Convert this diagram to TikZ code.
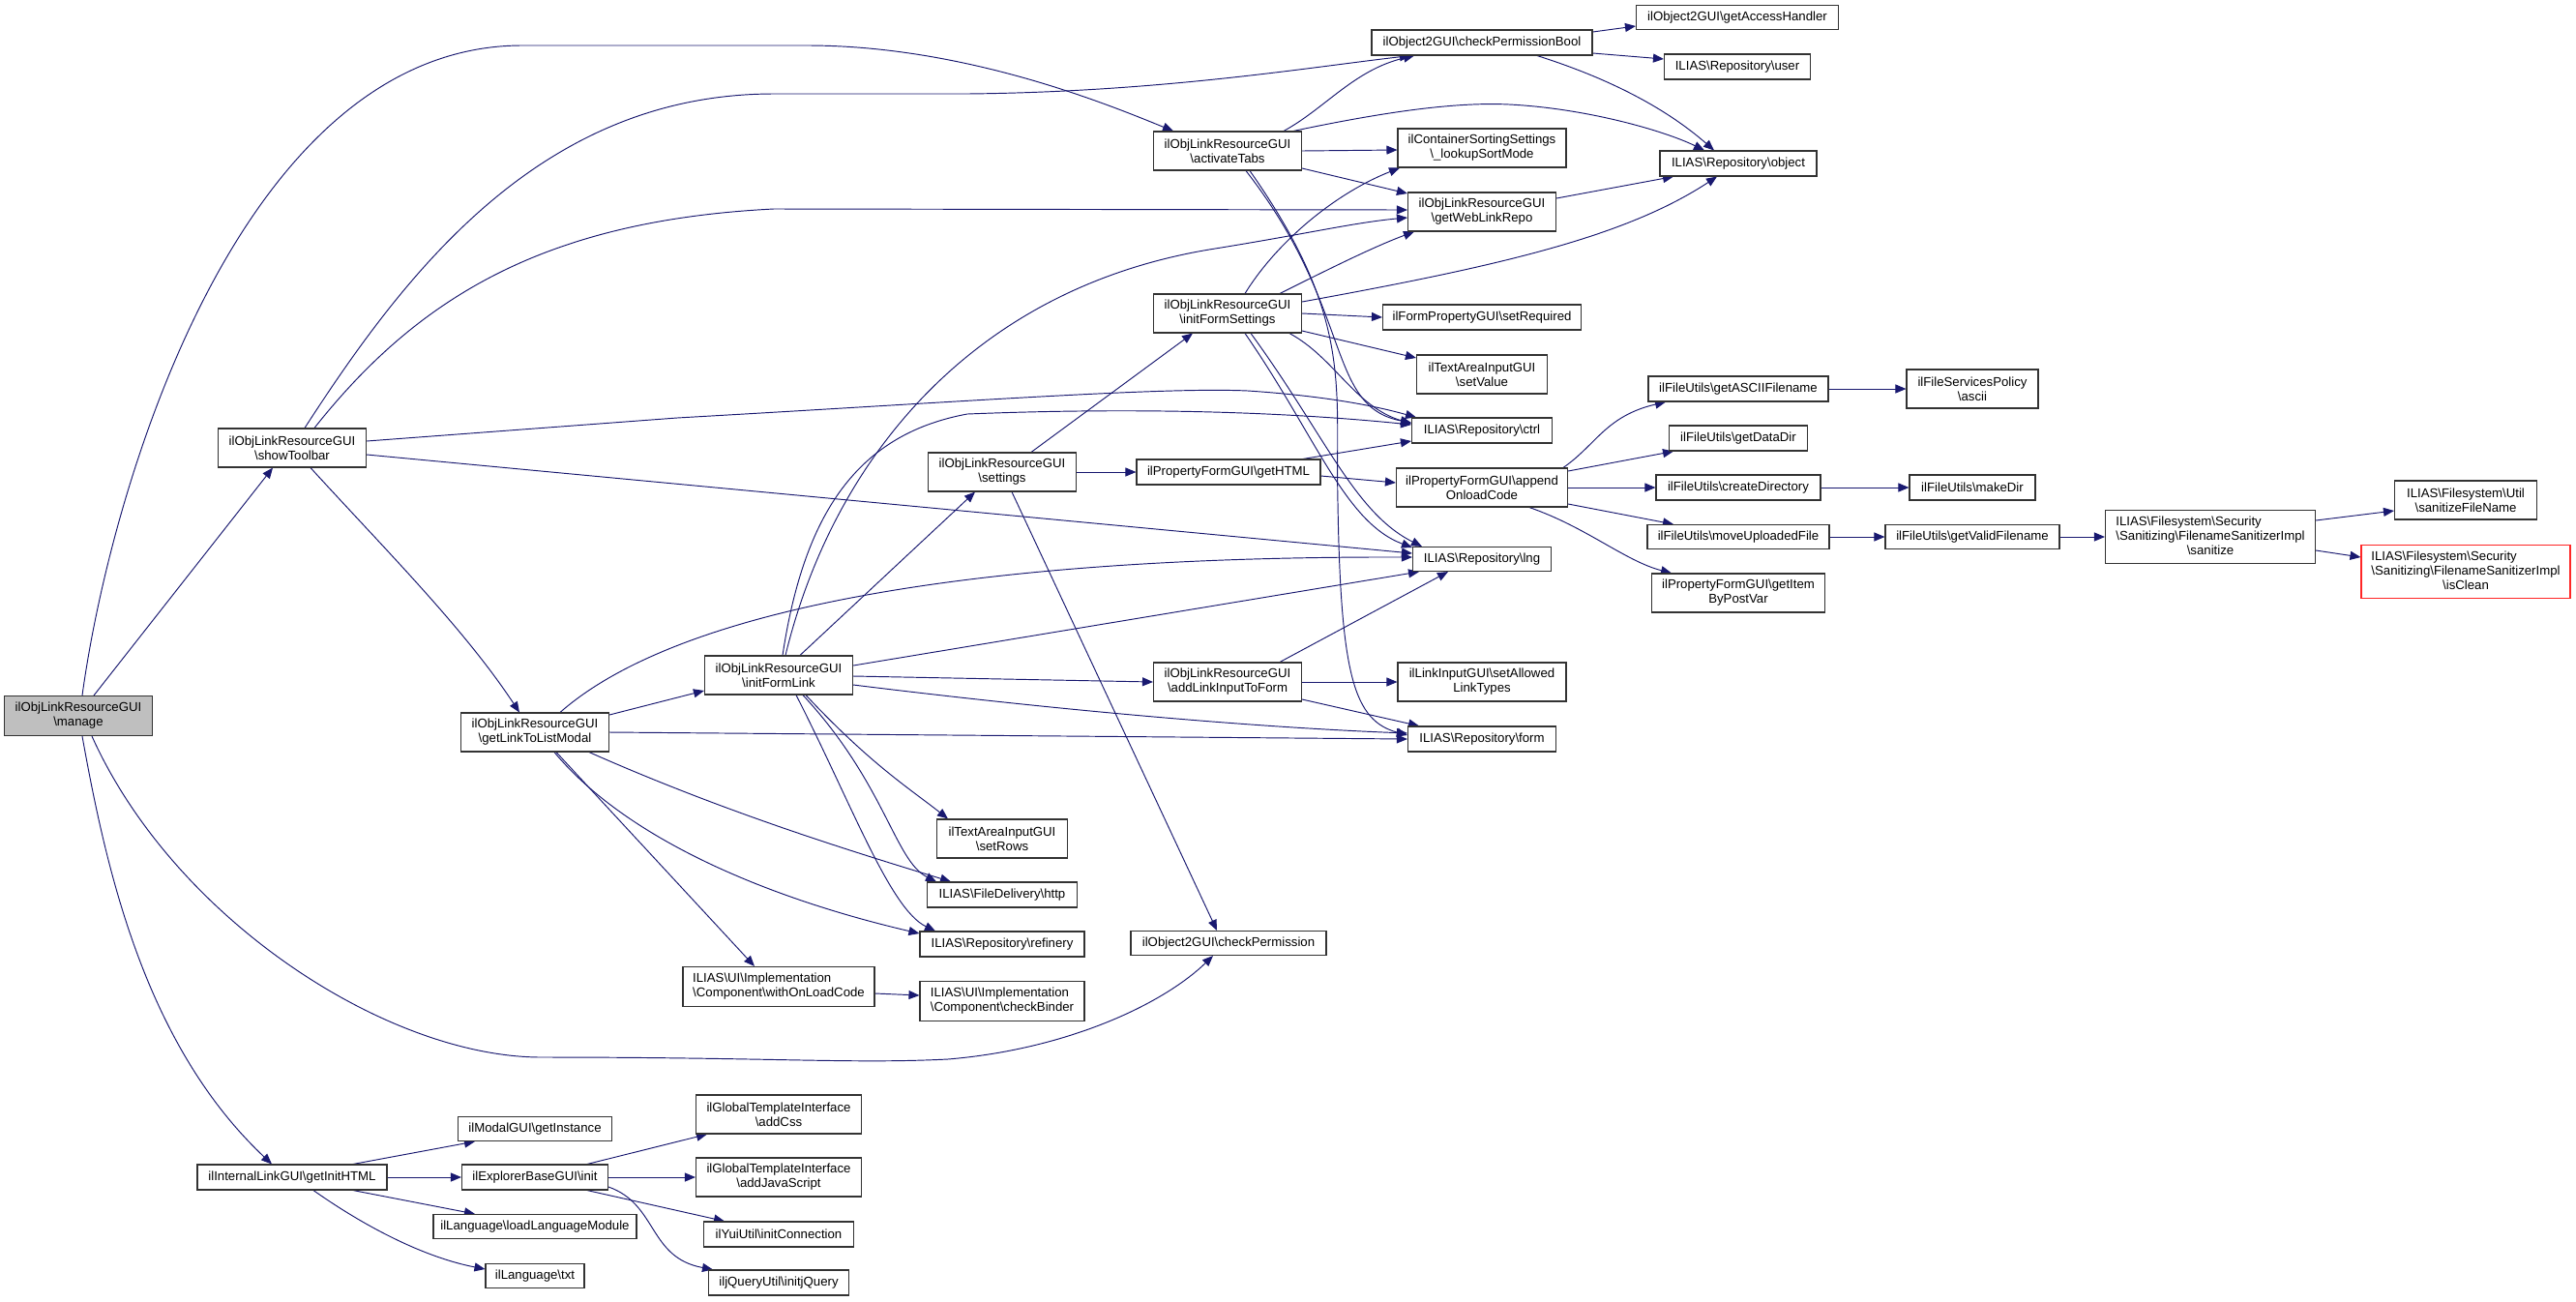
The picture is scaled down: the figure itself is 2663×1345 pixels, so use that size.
\documentclass[tikz,border=0pt]{standalone}
\usepackage{fontspec}
\setmainfont{Liberation Sans}
\usetikzlibrary{arrows.meta}
\newcommand\bksl{\textbackslash}
\newcommand\fsz{\fontsize{13.2}{15}\selectfont}
\definecolor{mblue}{RGB}{25,25,112}
\definecolor{gfill}{RGB}{191,191,191}
\pgfdeclarelayer{bg}
\pgfsetlayers{bg,main}
\tikzset{
  nd/.style={draw=black!80, line width=1.1pt, fill=white, inner sep=2pt, align=center, font=\fsz},
  e/.style={draw=mblue, line width=0.95pt, -{Triangle[length=11pt,width=9pt]}}
}
\begin{document}
\begin{tikzpicture}[x=1pt,y=-1pt]
\begin{pgfonlayer}{bg}
\fill[white] (0,0) rectangle (2663,1345);
\end{pgfonlayer}
\useasboundingbox (0,0) rectangle (2663,1345);
% nodes
\node[nd, fill=gfill, minimum width=153pt, minimum height=41pt] (manage) at (81,740) {ilObjLinkResourceGUI\\\bksl manage};
\node[nd, minimum width=153pt, minimum height=40pt] (showToolbar) at (302,463) {ilObjLinkResourceGUI\\\bksl showToolbar};
\node[nd, minimum width=153pt, minimum height=40pt] (getLinkToListModal) at (553,757) {ilObjLinkResourceGUI\\\bksl getLinkToListModal};
\node[nd, minimum width=196pt, minimum height=26pt] (getInitHTML) at (302,1217) {ilInternalLinkGUI\bksl getInitHTML};
\node[nd, minimum width=159pt, minimum height=25pt] (getInstance) at (553,1167) {ilModalGUI\bksl getInstance};
\node[nd, minimum width=151pt, minimum height=26pt] (explorerInit) at (553,1217) {ilExplorerBaseGUI\bksl init};
\node[nd, minimum width=210pt, minimum height=25pt] (loadLanguageModule) at (553,1268) {ilLanguage\bksl loadLanguageModule};
\node[nd, minimum width=102pt, minimum height=25pt] (txt) at (553,1319) {ilLanguage\bksl txt};
\node[nd, minimum width=153pt, minimum height=40pt] (initFormLink) at (805,698) {ilObjLinkResourceGUI\\\bksl initFormLink};
\node[nd, align=left, minimum width=198pt, minimum height=41pt] (withOnLoadCode) at (805,1020) {ILIAS\bksl UI\bksl Implementation\\\bksl Component\bksl withOnLoadCode};
\node[nd, minimum width=171pt, minimum height=40pt] (addCss) at (805,1152) {ilGlobalTemplateInterface\\\bksl addCss};
\node[nd, minimum width=171pt, minimum height=40pt] (addJavaScript) at (805,1217) {ilGlobalTemplateInterface\\\bksl addJavaScript};
\node[nd, minimum width=155pt, minimum height=26pt] (initConnection) at (805,1276) {ilYuiUtil\bksl initConnection};
\node[nd, minimum width=145pt, minimum height=26pt] (initjQuery) at (805,1326) {iljQueryUtil\bksl initjQuery};
\node[nd, minimum width=153pt, minimum height=40pt] (settings) at (1036,488) {ilObjLinkResourceGUI\\\bksl settings};
\node[nd, minimum width=135pt, minimum height=40pt] (setRows) at (1036,867) {ilTextAreaInputGUI\\\bksl setRows};
\node[nd, minimum width=155pt, minimum height=26pt] (http) at (1036,925) {ILIAS\bksl FileDelivery\bksl http};
\node[nd, minimum width=170pt, minimum height=26pt] (refinery) at (1036,976) {ILIAS\bksl Repository\bksl refinery};
\node[nd, align=left, minimum width=170pt, minimum height=41pt] (checkBinder) at (1036,1035) {ILIAS\bksl UI\bksl Implementation\\\bksl Component\bksl checkBinder};
\node[nd, minimum width=153pt, minimum height=40pt] (activateTabs) at (1269,156) {ilObjLinkResourceGUI\\\bksl activateTabs};
\node[nd, minimum width=153pt, minimum height=40pt] (initFormSettings) at (1269,324) {ilObjLinkResourceGUI\\\bksl initFormSettings};
\node[nd, minimum width=190pt, minimum height=26pt] (getHTML) at (1270,488) {ilPropertyFormGUI\bksl getHTML};
\node[nd, minimum width=153pt, minimum height=40pt] (addLinkInputToForm) at (1269,705) {ilObjLinkResourceGUI\\\bksl addLinkInputToForm};
\node[nd, minimum width=202pt, minimum height=25pt] (checkPermission) at (1270,975) {ilObject2GUI\bksl checkPermission};
\node[nd, minimum width=228pt, minimum height=26pt] (checkPermissionBool) at (1532,44) {ilObject2GUI\bksl checkPermissionBool};
\node[nd, minimum width=174pt, minimum height=40pt] (lookupSortMode) at (1532,153) {ilContainerSortingSettings\\\bksl\_lookupSortMode};
\node[nd, minimum width=153pt, minimum height=40pt] (getWebLinkRepo) at (1532,219) {ilObjLinkResourceGUI\\\bksl getWebLinkRepo};
\node[nd, minimum width=205pt, minimum height=26pt] (setRequired) at (1532,328) {ilFormPropertyGUI\bksl setRequired};
\node[nd, minimum width=135pt, minimum height=40pt] (setValue) at (1532,387) {ilTextAreaInputGUI\\\bksl setValue};
\node[nd, minimum width=145pt, minimum height=26pt] (ctrl) at (1532,445) {ILIAS\bksl Repository\bksl ctrl};
\node[nd, minimum width=177pt, minimum height=40pt] (appendOnloadCode) at (1532,504) {ilPropertyFormGUI\bksl append\\OnloadCode};
\node[nd, minimum width=143pt, minimum height=25pt] (lng) at (1532,578) {ILIAS\bksl Repository\bksl lng};
\node[nd, minimum width=174pt, minimum height=40pt] (setAllowedLinkTypes) at (1532,705) {ilLinkInputGUI\bksl setAllowed\\LinkTypes};
\node[nd, minimum width=153pt, minimum height=26pt] (form) at (1532,764) {ILIAS\bksl Repository\bksl form};
\node[nd, minimum width=209pt, minimum height=25pt] (getAccessHandler) at (1796,18) {ilObject2GUI\bksl getAccessHandler};
\node[nd, minimum width=151pt, minimum height=26pt] (user) at (1796,69) {ILIAS\bksl Repository\bksl user};
\node[nd, minimum width=162pt, minimum height=26pt] (object) at (1797,169) {ILIAS\bksl Repository\bksl object};
\node[nd, minimum width=186pt, minimum height=26pt] (getASCIIFilename) at (1797,402) {ilFileUtils\bksl getASCIIFilename};
\node[nd, minimum width=143pt, minimum height=26pt] (getDataDir) at (1797,453) {ilFileUtils\bksl getDataDir};
\node[nd, minimum width=170pt, minimum height=26pt] (createDirectory) at (1797,504) {ilFileUtils\bksl createDirectory};
\node[nd, minimum width=188pt, minimum height=25pt] (moveUploadedFile) at (1797,555) {ilFileUtils\bksl moveUploadedFile};
\node[nd, minimum width=179pt, minimum height=40pt] (getItemByPostVar) at (1797,613) {ilPropertyFormGUI\bksl getItem\\ByPostVar};
\node[nd, minimum width=136pt, minimum height=40pt] (ascii) at (2039,402) {ilFileServicesPolicy\\\bksl ascii};
\node[nd, minimum width=130pt, minimum height=26pt] (makeDir) at (2039,504) {ilFileUtils\bksl makeDir};
\node[nd, minimum width=180pt, minimum height=25pt] (getValidFilename) at (2039,555) {ilFileUtils\bksl getValidFilename};
\node[nd, minimum width=217pt, minimum height=55pt] (sanitize) at (2285,555) {\begin{tabular}{@{}l@{}}ILIAS\bksl Filesystem\bksl Security\\\bksl Sanitizing\bksl FilenameSanitizerImpl\\\multicolumn{1}{@{}c@{}}{\bksl sanitize}\end{tabular}};
\node[nd, minimum width=147pt, minimum height=40pt] (sanitizeFileName) at (2549,517) {ILIAS\bksl Filesystem\bksl Util\\\bksl sanitizeFileName};
\node[nd, draw=red!85, minimum width=216pt, minimum height=55pt] (isClean) at (2549,591) {\begin{tabular}{@{}l@{}}ILIAS\bksl Filesystem\bksl Security\\\bksl Sanitizing\bksl FilenameSanitizerImpl\\\multicolumn{1}{@{}c@{}}{\bksl isClean}\end{tabular}};
% edges
\begin{pgfonlayer}{bg}
\draw[e] ([xshift=4pt]manage.north) .. controls (115,500) and (250,47) .. (540,47) -- (834,47) .. controls (1000,47) and (1150,110) .. ([xshift=-56pt]activateTabs.north);
\draw[e] ([xshift=16pt]manage.north) -- ([xshift=-20pt]showToolbar.south);
\draw[e] ([xshift=4pt]manage.south) .. controls (110,900) and (150,1080) .. ([xshift=-21pt]getInitHTML.north);
\draw[e] ([xshift=14pt]manage.south) .. controls (180,950) and (400,1093) .. (560,1093) .. controls (800,1093) and (880,1100) .. (980,1095) .. controls (1100,1085) and (1200,1040) .. ([xshift=-16pt]checkPermission.south);
\draw[e] ([xshift=13pt]showToolbar.north) .. controls (420,280) and (560,97) .. (800,97) -- (1000,97) .. controls (1200,95) and (1350,70) .. ([xshift=-74pt]checkPermissionBool.south);
\draw[e] ([xshift=23pt]showToolbar.north) .. controls (430,310) and (560,228) .. (800,216) -- ([yshift=2pt]getWebLinkRepo.west);
\draw[e] ([yshift=7pt]showToolbar.east) -- (700,432) .. controls (1000,415) and (1200,400) .. (1290,404) .. controls (1380,410) and (1430,422) .. ([xshift=-68pt]ctrl.north);
\draw[e] ([yshift=-7pt]showToolbar.east) -- ([yshift=6pt]lng.west);
\draw[e] ([xshift=19pt]showToolbar.south) .. controls (400,570) and (480,650) .. ([xshift=-16pt]getLinkToListModal.north);
\draw[e] ([xshift=58pt]activateTabs.north) .. controls (1370,112) and (1400,72) .. ([xshift=-70pt]checkPermissionBool.south);
\draw[e] ([xshift=68pt]activateTabs.north) .. controls (1420,118) and (1500,105) .. (1560,108) .. controls (1640,112) and (1720,135) .. ([xshift=-35pt]object.north);
\draw[e] (activateTabs.east) -- ([yshift=-2pt]lookupSortMode.west);
\draw[e] ([yshift=-18pt]activateTabs.east) -- ([yshift=19pt]getWebLinkRepo.west);
\draw[e] ([xshift=19pt]activateTabs.south) .. controls (1400,320) and (1370,420) .. ([yshift=8pt]ctrl.west);
\draw[e] ([xshift=23pt]activateTabs.south) .. controls (1400,330) and (1380,400) .. (1383,520) .. controls (1386,700) and (1400,745) .. ([yshift=4pt]form.west);
\draw[e] ([xshift=18pt]initFormSettings.north) .. controls (1320,250) and (1380,200) .. ([xshift=-85pt]lookupSortMode.south);
\draw[e] ([xshift=54pt]initFormSettings.north) .. controls (1370,280) and (1420,255) .. ([xshift=-70pt]getWebLinkRepo.south);
\draw[e] ([yshift=12pt]initFormSettings.east) .. controls (1550,275) and (1680,245) .. ([xshift=-22pt]object.south);
\draw[e] (initFormSettings.east) -- (setRequired.west);
\draw[e] ([yshift=-18pt]initFormSettings.east) -- ([yshift=17pt]setValue.west);
\draw[e] ([xshift=64pt]initFormSettings.south) .. controls (1380,370) and (1400,420) .. ([yshift=7pt]ctrl.west);
\draw[e] ([xshift=18pt]initFormSettings.south) .. controls (1360,450) and (1390,540) .. ([yshift=12pt]lng.west);
\draw[e] ([xshift=24pt]initFormSettings.south) .. controls (1370,450) and (1400,530) .. ([xshift=-62pt]lng.north);
\draw[e] ([xshift=22pt]initFormLink.north) -- ([xshift=-28pt]settings.south);
\draw[e] ([xshift=7pt]initFormLink.north) .. controls (860,480) and (1000,300) .. (1250,258) .. controls (1350,242) and (1400,230) .. ([yshift=-6pt]getWebLinkRepo.west);
\draw[e] ([xshift=4pt]initFormLink.north) .. controls (830,540) and (880,450) .. (1000,428) .. controls (1200,420) and (1350,428) .. ([yshift=6pt]ctrl.west);
\draw[e] ([xshift=28pt]initFormLink.south) .. controls (900,790) and (940,815) .. ([xshift=-56pt]setRows.north);
\draw[e] ([xshift=25pt]initFormLink.south) .. controls (915,810) and (925,890) .. ([xshift=-68pt]http.north);
\draw[e] ([xshift=18pt]initFormLink.south) .. controls (880,830) and (920,940) .. ([xshift=-69pt]refinery.north);
\draw[e] ([yshift=10pt]initFormLink.east) -- ([xshift=-65pt]lng.south);
\draw[e] ([yshift=-1pt]initFormLink.east) -- (addLinkInputToForm.west);
\draw[e] ([yshift=-10pt]initFormLink.east) .. controls (1100,735) and (1300,752) .. ([yshift=6pt]form.west);
\draw[e] ([yshift=18pt]getLinkToListModal.east) -- ([yshift=-16pt]initFormLink.west);
\draw[e] ([xshift=26pt]getLinkToListModal.north) .. controls (700,630) and (1000,575) .. ([yshift=2pt]lng.west);
\draw[e] (getLinkToListModal.east) -- (form.west);
\draw[e] ([xshift=56pt]getLinkToListModal.south) .. controls (750,840) and (880,880) .. ([xshift=-53pt]http.north);
\draw[e] ([xshift=20pt]getLinkToListModal.south) .. controls (650,870) and (800,930) .. ([yshift=11pt]refinery.west);
\draw[e] ([xshift=22pt]getLinkToListModal.south) -- ([xshift=-25pt]withOnLoadCode.north);
\draw[e] ([xshift=30pt]settings.north) -- ([xshift=-36pt]initFormSettings.south);
\draw[e] (settings.east) -- (getHTML.west);
\draw[e] ([xshift=10pt]settings.south) -- ([xshift=-12pt]checkPermission.north);
\draw[e] ([xshift=77pt]getHTML.north) -- ([yshift=-11pt]ctrl.west);
\draw[e] ([yshift=-4pt]getHTML.east) -- ([yshift=5pt]appendOnloadCode.west);
\draw[e] ([xshift=54pt]addLinkInputToForm.north) -- ([xshift=-35pt]lng.south);
\draw[e] (addLinkInputToForm.east) -- (setAllowedLinkTypes.west);
\draw[e] ([yshift=-18pt]addLinkInputToForm.east) -- ([xshift=-65pt]form.north);
\draw[e] ([yshift=11pt]checkPermissionBool.east) -- ([yshift=-9pt]getAccessHandler.west);
\draw[e] ([yshift=-11pt]checkPermissionBool.east) -- ([yshift=8pt]user.west);
\draw[e] ([xshift=57pt]checkPermissionBool.south) .. controls (1660,80) and (1720,110) .. ([xshift=-25pt]object.north);
\draw[e] ([yshift=14pt]getWebLinkRepo.east) -- ([xshift=-67pt]object.south);
\draw[e] ([xshift=84pt]appendOnloadCode.north) .. controls (1650,460) and (1660,430) .. ([xshift=-75pt]getASCIIFilename.south);
\draw[e] ([yshift=17pt]appendOnloadCode.east) -- ([xshift=-67pt]getDataDir.south);
\draw[e] (appendOnloadCode.east) -- (createDirectory.west);
\draw[e] ([yshift=-17pt]appendOnloadCode.east) -- ([xshift=-67pt]moveUploadedFile.north);
\draw[e] ([xshift=49pt]appendOnloadCode.south) .. controls (1640,545) and (1680,580) .. ([xshift=-69pt]getItemByPostVar.north);
\draw[e] (getASCIIFilename.east) -- (ascii.west);
\draw[e] (createDirectory.east) -- (makeDir.west);
\draw[e] (moveUploadedFile.east) -- (getValidFilename.west);
\draw[e] (getValidFilename.east) -- (sanitize.west);
\draw[e] ([yshift=17pt]sanitize.east) -- ([yshift=-11pt]sanitizeFileName.west);
\draw[e] ([yshift=-14pt]sanitize.east) -- ([yshift=15pt]isClean.west);
\draw[e] ([yshift=-7pt]withOnLoadCode.east) -- ([yshift=6pt]checkBinder.west);
\draw[e] ([xshift=63pt]getInitHTML.north) -- ([xshift=-62pt]getInstance.south);
\draw[e] (getInitHTML.east) -- (explorerInit.west);
\draw[e] ([xshift=63pt]getInitHTML.south) -- ([xshift=-62pt]loadLanguageModule.north);
\draw[e] ([xshift=22pt]getInitHTML.south) .. controls (380,1270) and (440,1300) .. ([yshift=7pt]txt.west);
\draw[e] ([xshift=54pt]explorerInit.north) -- ([xshift=-74pt]addCss.south);
\draw[e] (explorerInit.east) -- (addJavaScript.west);
\draw[e] ([xshift=54pt]explorerInit.south) -- ([xshift=-56pt]initConnection.north);
\draw[e] ([yshift=-10pt]explorerInit.east) .. controls (680,1245) and (670,1300) .. ([xshift=-68pt]initjQuery.north);
\end{pgfonlayer}
\end{tikzpicture}
\end{document}
